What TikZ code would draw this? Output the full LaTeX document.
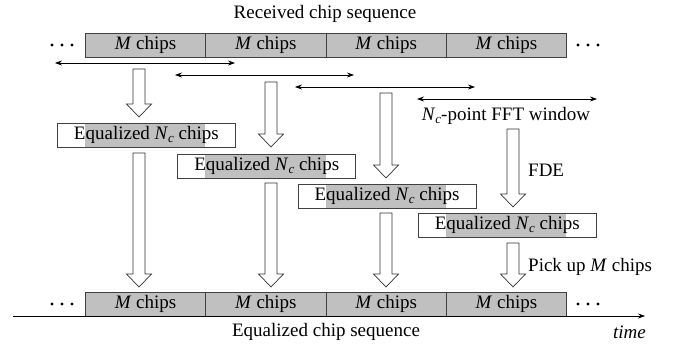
\documentclass[tikz,border=0pt]{standalone}
\usepackage{fontspec}
\setmainfont{Liberation Serif}
\usetikzlibrary{arrows.meta}
\definecolor{cellgray}{RGB}{192,192,192}
\definecolor{edgegray}{RGB}{64,64,64}
\newcommand\Nsubc{\textit{N}\raisebox{-0.3ex}{\fontsize{13}{13}\selectfont\textit{c}}}
\newcommand\blockarrow[3]{%
  \draw[blk] (#1-6,#2) -- (#1-6,#3-13) -- (#1-12.5,#3-13) -- (#1,#3) -- (#1+12.5,#3-13) -- (#1+6,#3-13) -- (#1+6,#2) -- cycle;}
\begin{document}
\begin{tikzpicture}[x=1pt,y=-1pt,
  font=\fontsize{19}{22}\selectfont,
  cell/.style={draw=edgegray, fill=cellgray, line width=0.8pt, minimum width=120.3pt, minimum height=24pt, inner sep=0pt, anchor=north west},
  eqbox/.style={draw=edgegray, line width=0.8pt, minimum width=178pt, minimum height=24pt, inner sep=0pt, anchor=north west},
  blk/.style={draw=black!80, fill=white, line width=0.7pt, line join=miter},
  dbl/.style={{Stealth[length=7pt,width=5pt]}-{Stealth[length=7pt,width=5pt]}, line width=0.7pt},
  lbl/.style={inner sep=0pt},
  dot/.style={fill=black, circle, inner sep=0pt, minimum size=3.4pt}]
\useasboundingbox (0,0) rectangle (676,345);

% title
\node[lbl] (title) at (325,14) {Received chip sequence};

% received sequence
\foreach \i in {0,1,2,3} {
  \node[cell] (r\i) at (85+120.3*\i,33) {\textit{M} chips};
}
\foreach \x in {52,62,72,578,588,598} {\node[dot] at (\x,45) {};}

% FFT windows
\coordinate (w1a) at (55,63);  \coordinate (w1b) at (235,63);
\coordinate (w2a) at (175,75); \coordinate (w2b) at (354,75);
\coordinate (w3a) at (295,87); \coordinate (w3b) at (475,87);
\coordinate (w4a) at (417,99); \coordinate (w4b) at (597,99);
\draw[dbl] (w1a) -- (w1b);
\draw[dbl] (w2a) -- (w2b);
\draw[dbl] (w3a) -- (w3b);
\draw[dbl] (w4a) -- (w4b);
\node[lbl] (fft) at (506,116) {\Nsubc-point FFT window};

% equalized blocks
\foreach \i/\y in {0/123,1/154,2/184,3/213} {
  \fill[cellgray] (85+120.3*\i,\y) rectangle (85+120.3*\i+120.3,\y+24);
  \node[eqbox] (e\i) at (57+120.3*\i,\y) {Equalized \Nsubc\ chips};
}

% block arrows: FFT window -> equalized block
\blockarrow{139}{69}{117}
\blockarrow{271}{82}{147}
\blockarrow{386}{93}{178}
\blockarrow{513}{129}{207}
\node[lbl, anchor=west] (fde) at (528,170) {FDE};

% block arrows: equalized block -> output
\blockarrow{139}{153}{287}
\blockarrow{271}{183}{287}
\blockarrow{386}{213}{287}
\blockarrow{513}{243}{287}
\node[lbl, anchor=west] (pick) at (528,267) {Pick up \textit{M} chips};

% output sequence
\foreach \i in {0,1,2,3} {
  \node[cell] (o\i) at (85+120.3*\i,292) {\textit{M} chips};
}
\foreach \x in {52,62,72,578,588,598} {\node[dot] at (\x,304) {};}

% time axis
\coordinate (t0) at (13,316);
\coordinate (t1) at (645,316);
\draw[-{Stealth[length=7pt,width=5pt]}, line width=0.7pt] (t0) -- (t1);
\node[lbl] (eqseq) at (326,332) {Equalized chip sequence};
\node[lbl, anchor=east] (time) at (646,332) {\textit{time}};
\end{tikzpicture}
\end{document}
